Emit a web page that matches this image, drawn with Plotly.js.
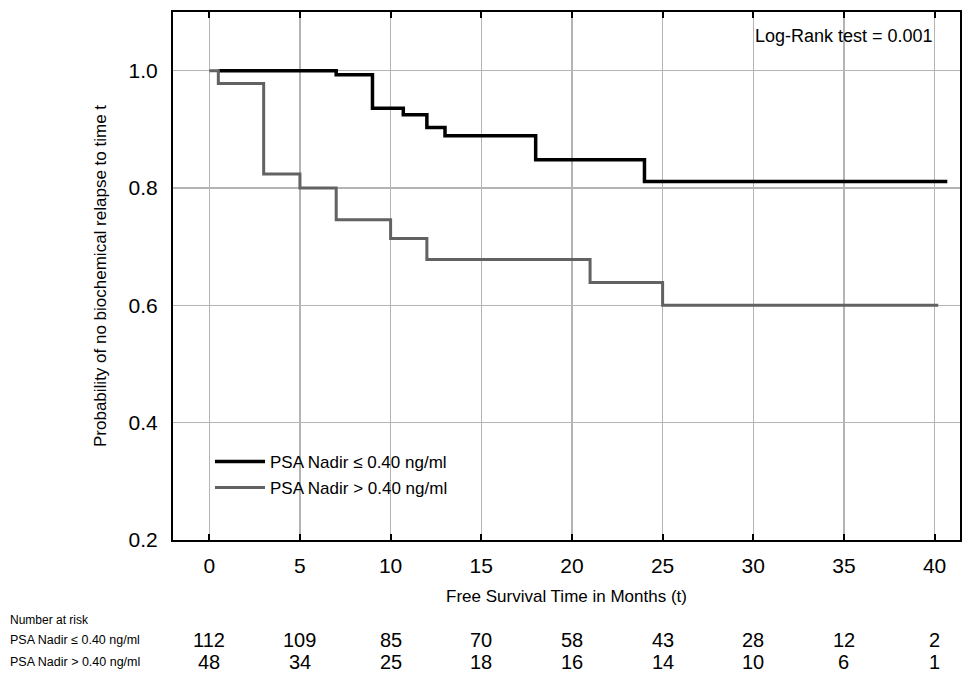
<!DOCTYPE html>
<html>
<head>
<meta charset="utf-8">
<script src="https://cdn.plot.ly/plotly-3.0.1.min.js"></script>
<style>html,body{margin:0;padding:0;background:#fff;}#chart{width:962px;height:677px;}</style>
</head>
<body>
<div id="chart"></div>
<script>
// Kaplan-Meier step data
var lowNadirTime = [0.5, 7, 9, 10.7, 12, 13, 18, 24, 40.7];
var lowNadirSurv = [1.0, 0.993, 0.936, 0.925, 0.903, 0.889, 0.848, 0.811, 0.811];
var highNadirTime = [0, 0.5, 3, 5, 7, 10, 12, 21, 25, 40.2];
var highNadirSurv = [1.0, 0.978, 0.824, 0.80, 0.746, 0.714, 0.678, 0.639, 0.60, 0.60];

var seriesNames = ["PSA Nadir \u2264 0.40 ng/ml", "PSA Nadir > 0.40 ng/ml"];
var riskTimes = [0, 5, 10, 15, 20, 25, 30, 35, 40];
var riskLow = [112, 109, 85, 70, 58, 43, 28, 12, 2];
var riskHigh = [48, 34, 25, 18, 16, 14, 10, 6, 1];
var riskRowLabels = ["PSA Nadir \u2264 0.40 ng/ml", "PSA Nadir > 0.40 ng/ml"];
var xTicks = [0, 5, 10, 15, 20, 25, 30, 35, 40];
var yTicks = [0.2, 0.4, 0.6, 0.8, 1.0];

var narrow = "'Liberation Sans Narrow', 'Arial Narrow', 'Liberation Sans', Arial, sans-serif";
var sans = "'Liberation Sans', Arial, sans-serif";

var traces = [
  {x: lowNadirTime, y: lowNadirSurv, name: seriesNames[0], mode: 'lines', legendgroup: 'a',
   line: {shape: 'hv', color: '#000000', width: 3.5}},
  {x: highNadirTime, y: highNadirSurv, name: seriesNames[1], mode: 'lines', legendgroup: 'b',
   line: {shape: 'hv', color: '#626262', width: 3}}
];

var annotations = [
  {text: 'Log-Rank test = 0.001', xref: 'paper', yref: 'paper', x: 0.968, y: 0.955,
   xanchor: 'right', yanchor: 'middle', showarrow: false,
   font: {family: narrow, size: 18, color: '#000'}},
  {text: 'Number at risk', xref: 'paper', yref: 'paper', x: -0.21, y: -0.152,
   xanchor: 'left', yanchor: 'middle', showarrow: false,
   font: {family: narrow, size: 12, color: '#000'}}
];
var rowY = [-0.19, -0.232];
[riskLow, riskHigh].forEach(function (row, r) {
  annotations.push({text: riskRowLabels[r], xref: 'paper', yref: 'paper', x: -0.21, y: rowY[r],
    xanchor: 'left', yanchor: 'middle', showarrow: false,
    font: {family: narrow, size: 12.5, color: '#000'}});
  row.forEach(function (v, i) {
    annotations.push({text: String(v), xref: 'x', yref: 'paper', x: riskTimes[i], y: rowY[r],
      xanchor: 'center', yanchor: 'middle', showarrow: false,
      font: {family: narrow, size: 20, color: '#000'}});
  });
});

var layout = {
  width: 962, height: 677,
  margin: {l: 173, r: 2, t: 12, b: 137},
  paper_bgcolor: '#fff', plot_bgcolor: '#fff',
  showlegend: true,
  legend: {x: 0.047, y: 0.182, xanchor: 'left', yanchor: 'top', bgcolor: 'rgba(0,0,0,0)',
    traceorder: 'grouped', tracegroupgap: 1, itemwidth: 50,
    font: {family: narrow, size: 17, color: '#000'}},
  xaxis: {
    range: [-2, 41.4], tickvals: xTicks, ticktext: xTicks.map(String),
    showgrid: true, gridcolor: '#b4b4b4', gridwidth: 1.5,
    zeroline: false, showline: true, linecolor: '#000', linewidth: 2, mirror: 'ticks',
    ticks: 'inside', ticklen: 6, tickwidth: 2, tickcolor: '#000',
    tickfont: {family: sans, size: 21, color: '#000'}, ticklabelstandoff: 6,
    title: {text: 'Free Survival Time in Months (t)', font: {family: narrow, size: 17, color: '#000'}, standoff: 14}
  },
  yaxis: {
    range: [0.2, 1.1], tickvals: yTicks, ticktext: yTicks.map(function (v) { return v.toFixed(1); }),
    showgrid: true, gridcolor: '#b4b4b4', gridwidth: 1.5,
    zeroline: false, showline: true, linecolor: '#000', linewidth: 2, mirror: true,
    ticks: '', tickfont: {family: sans, size: 21, color: '#000'}, ticklabelstandoff: 9,
    title: {text: 'Probability of no biochemical relapse to time t', font: {family: sans, size: 17, color: '#000'}, standoff: 18}
  },
  annotations: annotations
};

Plotly.newPlot('chart', traces, layout, {displayModeBar: false, staticPlot: true});
</script>
</body>
</html>
